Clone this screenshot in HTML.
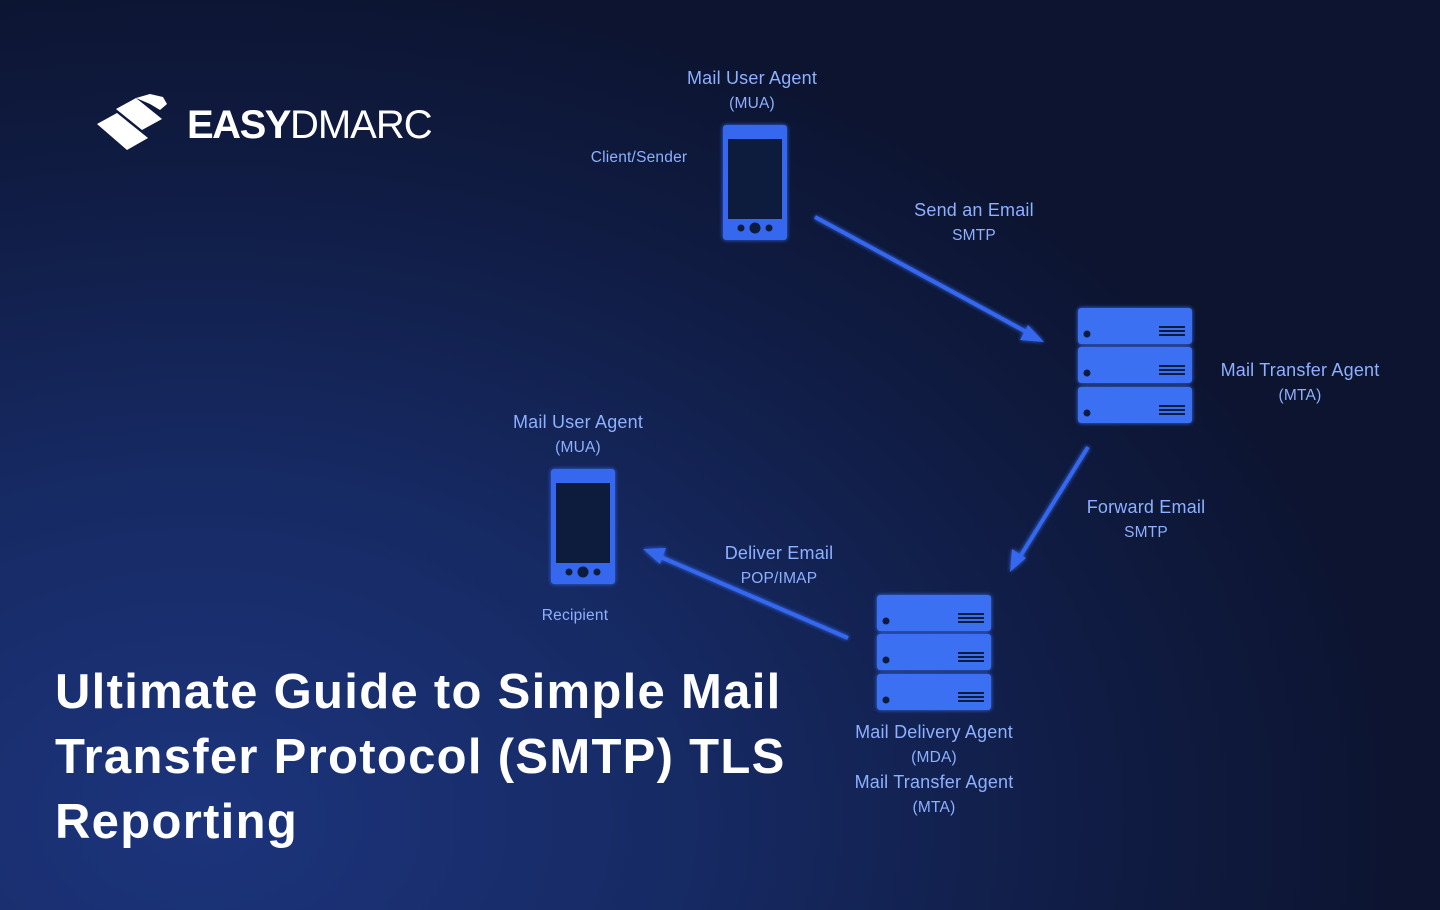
<!DOCTYPE html>
<html><head><style>
html,body{margin:0;padding:0}
body{width:1440px;height:910px;overflow:hidden;position:relative;font-family:"Liberation Sans",sans-serif;
background:radial-gradient(ellipse 1200px 850px at 200px 820px,#1c347c 0%,#162a64 40%,#101c44 75%,#0c1430 100%);}
.t{position:absolute;color:#8db0ff;text-align:center;font-size:18px;line-height:24px;transform:translateX(-50%);white-space:nowrap;letter-spacing:0.2px}
.s{font-size:15.5px}
h1{position:absolute;left:55px;top:660px;margin:0;color:#fff;font-size:49px;line-height:65px;font-weight:bold;letter-spacing:1.3px}
</style></head><body>
<svg width="1440" height="910" style="position:absolute;left:0;top:0">
<defs>
<filter id="g"><feGaussianBlur stdDeviation="2" result="b"/><feMerge><feMergeNode in="b"/><feMergeNode in="SourceGraphic"/></feMerge></filter>
<g id="ph">
<rect x="0" y="0" width="64" height="115" rx="3" fill="#3468ee"/>
<rect x="5" y="14" width="54" height="80" fill="#0f1a3d"/>
<circle cx="18" cy="103" r="3.5" fill="#0f1a3d"/><circle cx="32" cy="103" r="5.5" fill="#0f1a3d"/><circle cx="46" cy="103" r="3.5" fill="#0f1a3d"/>
</g>
<g id="su">
<rect x="0" y="0" width="114" height="36" rx="3" fill="#3a6ff2"/>
<circle cx="9" cy="26" r="3.5" fill="#0f1a3d"/>
<rect x="81" y="18" width="26" height="2" fill="#0f1a3d"/><rect x="81" y="22" width="26" height="2" fill="#0f1a3d"/><rect x="81" y="26" width="26" height="2" fill="#0f1a3d"/>
</g>
<g id="sv"><use href="#su"/><use href="#su" y="39"/><use href="#su" y="79"/></g>
</defs>
<g filter="url(#g)">
<use href="#ph" x="723" y="125"/>
<use href="#ph" x="551" y="469"/>
<use href="#sv" x="1078" y="308"/>
<use href="#sv" x="877" y="595"/>
</g>
<g stroke="#3468ee" stroke-width="4" fill="#3468ee" filter="url(#g)">
<line x1="815" y1="217" x2="1032" y2="335"/>
<polygon stroke="none" points="1044,342 1020,340 1028,325"/>
<line x1="1088" y1="447" x2="1018" y2="560"/>
<polygon stroke="none" points="1010,572 1012,549 1026,558"/>
<line x1="848" y1="638" x2="656" y2="555"/>
<polygon stroke="none" points="643,549 666,548 660,564"/>
</g>
<!-- logo -->
<g fill="#fff">
<polygon points="97,124 117,113 148,138 127,150"/>
<polygon points="116,109 136,98 162,119 142,130"/>
<polygon points="136,98 150,94 163,97 167,104 160,110 150,104"/>
</g>
<text x="187" y="138" fill="#fff" font-family="Liberation Sans,sans-serif" font-size="40" font-weight="bold" letter-spacing="-1.5">EASY<tspan font-weight="normal" letter-spacing="-1">DMARC</tspan></text>
</svg>
<div class="t" style="left:752px;top:66px">Mail User Agent<br><span class="s">(MUA)</span></div>
<div class="t s" style="left:639px;top:146px">Client/Sender</div>
<div class="t" style="left:974px;top:198px">Send an Email<br><span class="s">SMTP</span></div>
<div class="t" style="left:1300px;top:358px">Mail Transfer Agent<br><span class="s">(MTA)</span></div>
<div class="t" style="left:578px;top:410px">Mail User Agent<br><span class="s">(MUA)</span></div>
<div class="t" style="left:1146px;top:495px">Forward Email<br><span class="s">SMTP</span></div>
<div class="t" style="left:779px;top:541px">Deliver Email<br><span class="s">POP/IMAP</span></div>
<div class="t s" style="left:575px;top:604px">Recipient</div>
<div class="t" style="left:934px;top:720px">Mail Delivery Agent<br><span class="s">(MDA)</span></div>
<div class="t" style="left:934px;top:770px">Mail Transfer Agent<br><span class="s">(MTA)</span></div>
<h1>Ultimate Guide to Simple Mail<br>Transfer Protocol (SMTP) TLS<br>Reporting</h1>
</body></html>
